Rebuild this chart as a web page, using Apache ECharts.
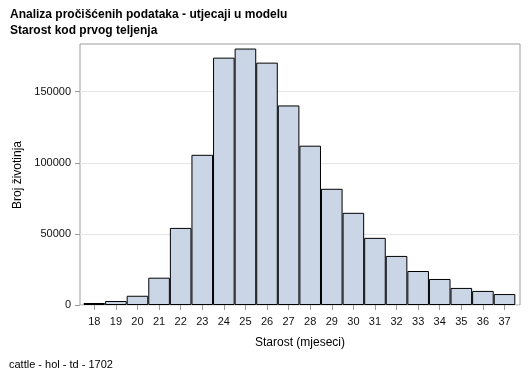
<!DOCTYPE html>
<html>
<head>
<meta charset="utf-8">
<script src="https://cdn.jsdelivr.net/npm/echarts@6/dist/echarts.min.js"></script>
<style>html,body{margin:0;padding:0;background:#fff;}#c{width:529px;height:378px;}</style>
</head>
<body>
<div id="c"></div>
<script>
var categories = ['18','19','20','21','22','23','24','25','26','27','28','29','30','31','32','33','34','35','36','37'];
var counts = [1400, 2800, 6500, 19200, 54200, 105600, 173900, 180300, 170400, 140300, 112000, 81700, 64800, 47200, 34500, 23900, 18300, 12000, 9900, 7700];
var yTicks = [0, 50000, 100000, 150000];
var titleLines = ['Analiza pročišćenih podataka - utjecaji u modelu', 'Starost kod prvog teljenja'];
var yTitle = 'Broj životinja';
var xTitle = 'Starost (mjeseci)';
var footnote = 'cattle - hol - td - 1702';

var FONT = '"Liberation Sans", Arial, sans-serif';
var YMAX = 183500;
var chart = echarts.init(document.getElementById('c'), null, {renderer: 'canvas'});
chart.setOption({
  animation: false,
  backgroundColor: '#ffffff',
  grid: [
    {left: 80, right: 9, top: 44, bottom: 73, show: true, borderColor: '#9c9c9c', borderWidth: 1, backgroundColor: 'transparent', containLabel: false},
    {left: 83.5, right: 13.7, top: 44, bottom: 73, containLabel: false}
  ],
  xAxis: [
    {gridIndex: 0, type: 'value', min: 0, max: 1, show: false},
    {gridIndex: 1, type: 'category', data: categories,
     axisLine: {show: false},
     axisTick: {show: true, alignWithLabel: true, length: 5, lineStyle: {color: '#9c9c9c'}},
     axisLabel: {color: '#111', fontFamily: FONT, fontSize: 11, margin: 11},
     splitLine: {show: false}}
  ],
  yAxis: [
    {gridIndex: 0, type: 'value', min: 0, max: YMAX, interval: 50000,
     axisLine: {show: false},
     axisTick: {show: true, length: 5, customValues: yTicks, lineStyle: {color: '#9c9c9c'}},
     axisLabel: {color: '#111', fontFamily: FONT, fontSize: 11, margin: 9, customValues: yTicks,
                 formatter: function (v) { return String(Math.round(v)); }},
     splitLine: {show: true, lineStyle: {color: '#e6e6e6', width: 1}}},
    {gridIndex: 1, type: 'value', min: 0, max: YMAX, show: false, splitLine: {show: false}}
  ],
  series: [{
    type: 'bar', xAxisIndex: 1, yAxisIndex: 1, data: counts,
    barCategoryGap: '0%',
    itemStyle: {color: '#cad5e5', borderColor: '#000000', borderWidth: 1}
  }],
  graphic: [
    {type: 'text', left: 10, top: 9, style: {text: titleLines[0], font: 'bold 12px ' + FONT, fill: '#000'}},
    {type: 'text', left: 10, top: 25, style: {text: titleLines[1], font: 'bold 12px ' + FONT, fill: '#000'}},
    {type: 'text', x: 17.5, y: 175, rotation: Math.PI / 2, style: {text: yTitle, font: '12px ' + FONT, fill: '#000', align: 'center', verticalAlign: 'middle'}},
    {type: 'text', x: 300, y: 343, style: {text: xTitle, font: '12px ' + FONT, fill: '#000', align: 'center', verticalAlign: 'middle'}},
    {type: 'text', x: 9, y: 365, style: {text: footnote, font: '11px ' + FONT, fill: '#000', align: 'left', verticalAlign: 'middle'}}
  ]
});
</script>
</body>
</html>
